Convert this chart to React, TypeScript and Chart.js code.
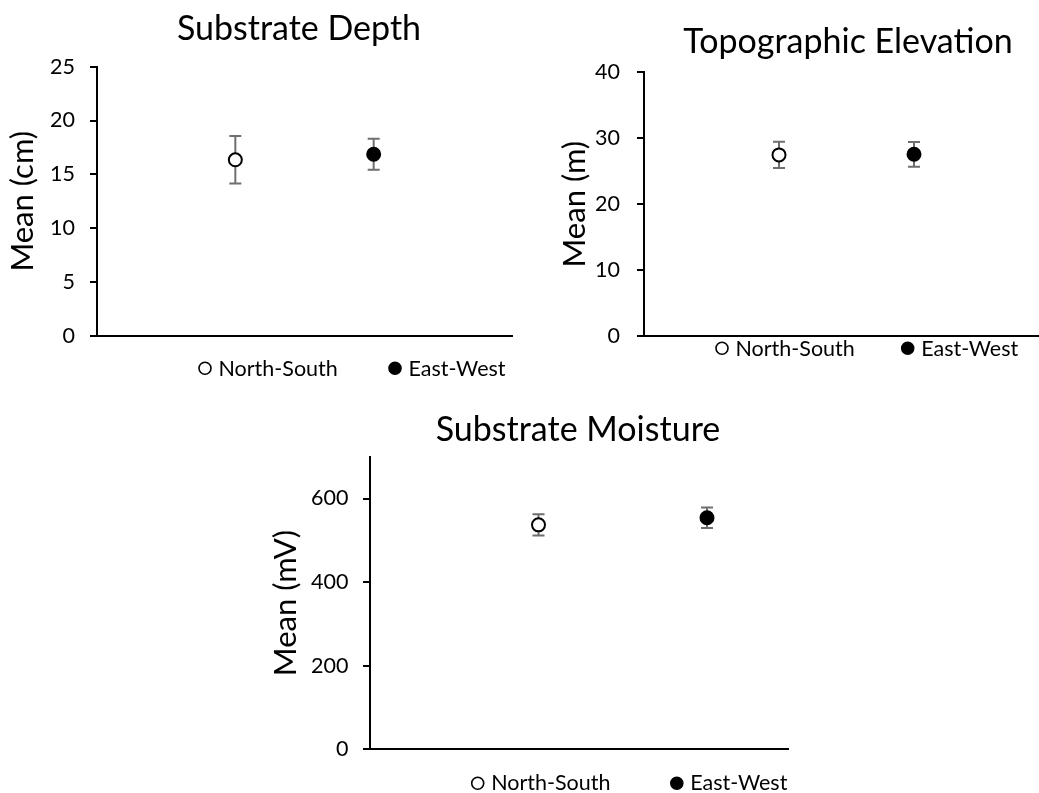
import React, { useEffect, useRef } from 'react';
import { Chart, registerables } from 'chart.js';

Chart.register(...registerables);

// Groups compared in every panel
const groups = ['North-South', 'East-West'];

// Substrate depth (cm): means and error half-widths
const depthMeans = [16.35, 16.87];
const depthErrors = [2.2, 1.44];
const depthTicks = [0, 5, 10, 15, 20, 25];

// Topographic elevation (m)
const elevationMeans = [27.47, 27.56];
const elevationErrors = [2.0, 1.87];
const elevationTicks = [0, 10, 20, 30, 40];

// Substrate moisture (mV)
const moistureMeans = [537, 554];
const moistureErrors = [25.5, 24.6];
const moistureTicks = [0, 200, 400, 600];

const FONT = 'Lato, "Open Sans", sans-serif';
const TICK_SIZE = 21.5;
const AXIS_TITLE_SIZE = 31;
const TITLE_SIZE = 34;
const LEGEND_SIZE = 21.5;

// Page-level layout of each panel (pixels)
const panels = [
  {
    key: 'depth',
    title: 'Substrate Depth',
    yTitle: 'Mean (cm)',
    means: depthMeans,
    errors: depthErrors,
    ticks: depthTicks,
    yMax: 25,
    canvas: { left: 0, top: 0, width: 540, height: 395 },
    clipWidth: 540,
    plot: { left: 97, top: 66.7, right: 512, bottom: 335.7 },
    yTitleX: 23,
    tickPad: 15,
    titleX: 299,
    titleBaseline: 40,
    legendMarkerY: 368.3,
    legendBaseline: 375.5,
    legendX: [205, 395],
  },
  {
    key: 'elevation',
    title: 'Topographic Elevation',
    yTitle: 'Mean (m)',
    means: elevationMeans,
    errors: elevationErrors,
    ticks: elevationTicks,
    yMax: 40,
    canvas: { left: 545, top: 0, width: 520, height: 395 },
    clipWidth: 520,
    plot: { left: 644, top: 72.3, right: 1049, bottom: 336 },
    yTitleX: 575,
    tickPad: 17,
    titleX: 848,
    titleBaseline: 53.3,
    legendMarkerY: 348.3,
    legendBaseline: 355.5,
    legendX: [722, 907.7],
  },
  {
    key: 'moisture',
    title: 'Substrate Moisture',
    yTitle: 'Mean (mV)',
    means: moistureMeans,
    errors: moistureErrors,
    ticks: moistureTicks,
    yMax: 700,
    canvas: { left: 250, top: 395, width: 650, height: 398 },
    clipWidth: 539,
    plot: { left: 370, top: 456.7, right: 875.5, bottom: 749.3 },
    yTitleX: 286,
    tickPad: 14.5,
    titleX: 578,
    titleBaseline: 441,
    legendMarkerY: 783.3,
    legendBaseline: 790,
    legendX: [477.7, 676.8],
  },
];

const markerStyles = [
  { fill: '#ffffff', stroke: '#000000' },
  { fill: '#000000', stroke: '#000000' },
];

// Vertical error bars with caps, drawn behind the markers
const errorBarPlugin = {
  id: 'errorBars',
  beforeDatasetsDraw(chart: any) {
    const opts = chart.options.plugins.errorBars;
    if (!opts) return;
    const { ctx } = chart;
    const y = chart.scales.y;
    chart.data.datasets.forEach((ds: any, di: number) => {
      const meta = chart.getDatasetMeta(di);
      meta.data.forEach((pt: any, i: number) => {
        const v = ds.data[i].y;
        const e = ds.errors[i];
        const top = y.getPixelForValue(v + e);
        const bot = y.getPixelForValue(v - e);
        const half = opts.cap / 2;
        ctx.save();
        ctx.strokeStyle = opts.color;
        ctx.lineWidth = opts.width;
        ctx.beginPath();
        ctx.moveTo(pt.x, top);
        ctx.lineTo(pt.x, bot);
        ctx.moveTo(pt.x - half, top);
        ctx.lineTo(pt.x + half, top);
        ctx.moveTo(pt.x - half, bot);
        ctx.lineTo(pt.x + half, bot);
        ctx.stroke();
        ctx.restore();
      });
    });
  },
};

// Panel title and the legend row underneath the axis
const panelTextPlugin = {
  id: 'panelText',
  afterDraw(chart: any) {
    const o = chart.options.plugins.panelText;
    if (!o) return;
    const { ctx } = chart;
    ctx.save();
    ctx.fillStyle = '#000';
    ctx.font = `${TITLE_SIZE}px ${FONT}`;
    ctx.textAlign = 'center';
    ctx.textBaseline = 'alphabetic';
    ctx.fillText(o.title, o.titleX, o.titleBaseline);

    ctx.font = `${LEGEND_SIZE}px ${FONT}`;
    ctx.textAlign = 'left';
    chart.data.datasets.forEach((ds: any, i: number) => {
      const cx = o.legendX[i];
      ctx.beginPath();
      ctx.arc(cx, o.legendMarkerY, 6, 0, Math.PI * 2);
      ctx.fillStyle = ds.pointBackgroundColor;
      ctx.fill();
      ctx.lineWidth = 1.6;
      ctx.strokeStyle = ds.pointBorderColor;
      ctx.stroke();
      ctx.fillStyle = '#000';
      ctx.fillText(ds.label, cx + 13.5, o.legendBaseline);
    });
    ctx.restore();
  },
};

function buildConfig(p: any) {
  const c = p.canvas;
  const lineH = AXIS_TITLE_SIZE * 1.2;
  const padL = p.yTitleX - c.left - lineH / 2;
  const yWidth = p.plot.left - c.left - padL;

  const datasets = groups.map((g, i) => ({
    label: g,
    data: [{ x: i + 1, y: p.means[i] }],
    errors: [p.errors[i]],
    pointRadius: 6.5,
    pointHoverRadius: 6.5,
    pointBorderWidth: 2,
    pointBackgroundColor: markerStyles[i].fill,
    pointBorderColor: markerStyles[i].stroke,
    showLine: false,
  }));

  return {
    type: 'scatter',
    data: { datasets },
    plugins: [errorBarPlugin, panelTextPlugin],
    options: {
      responsive: false,
      animation: false,
      devicePixelRatio: 1,
      layout: {
        padding: {
          left: padL,
          right: c.left + c.width - p.plot.right,
          top: p.plot.top - c.top,
          bottom: c.top + c.height - p.plot.bottom,
        },
      },
      plugins: {
        legend: { display: false },
        tooltip: { enabled: false },
        title: { display: false },
        errorBars: { color: '#6f6f6f', width: 2, cap: 12 },
        panelText: {
          title: p.title,
          titleX: p.titleX - c.left,
          titleBaseline: p.titleBaseline - c.top,
          legendX: p.legendX.map((x: number) => x - c.left),
          legendMarkerY: p.legendMarkerY - c.top,
          legendBaseline: p.legendBaseline - c.top,
        },
      },
      scales: {
        x: {
          type: 'linear',
          min: 0,
          max: 3,
          ticks: { display: false },
          grid: { display: false, drawTicks: false },
          border: { display: true, color: '#000', width: 2 },
          afterFit: (s: any) => {
            s.height = 0;
          },
        },
        y: {
          type: 'linear',
          min: 0,
          max: p.yMax,
          afterBuildTicks: (s: any) => {
            s.ticks = p.ticks.map((v: number) => ({ value: v }));
          },
          ticks: {
            font: { family: FONT, size: TICK_SIZE },
            color: '#000',
            padding: p.tickPad,
          },
          grid: {
            drawOnChartArea: false,
            drawTicks: true,
            tickLength: 7,
            color: '#000',
            lineWidth: 2,
          },
          border: { display: true, color: '#000', width: 2 },
          title: {
            display: true,
            text: p.yTitle,
            color: '#000',
            font: { family: FONT, size: AXIS_TITLE_SIZE },
            padding: 0,
          },
          afterFit: (s: any) => {
            s.width = yWidth;
          },
        },
      },
    },
  };
}

function Panel({ p }: { p: any }) {
  const ref = useRef<HTMLCanvasElement | null>(null);
  useEffect(() => {
    if (!ref.current) return;
    const chart = new Chart(ref.current, buildConfig(p) as any);
    return () => chart.destroy();
  }, [p]);
  const c = p.canvas;
  return (
    <div
      style={{
        position: 'absolute',
        left: c.left,
        top: c.top,
        width: p.clipWidth,
        height: c.height,
        overflow: 'hidden',
      }}
    >
      <canvas
        ref={ref}
        width={c.width}
        height={c.height}
        style={{ display: 'block', width: c.width, height: c.height }}
      />
    </div>
  );
}

export default function App() {
  return (
    <div
      style={{
        position: 'fixed',
        left: 0,
        top: 0,
        width: 1039,
        height: 793,
        overflow: 'hidden',
        background: '#fff',
      }}
    >
      {panels.map((p) => (
        <Panel key={p.key} p={p} />
      ))}
    </div>
  );
}
